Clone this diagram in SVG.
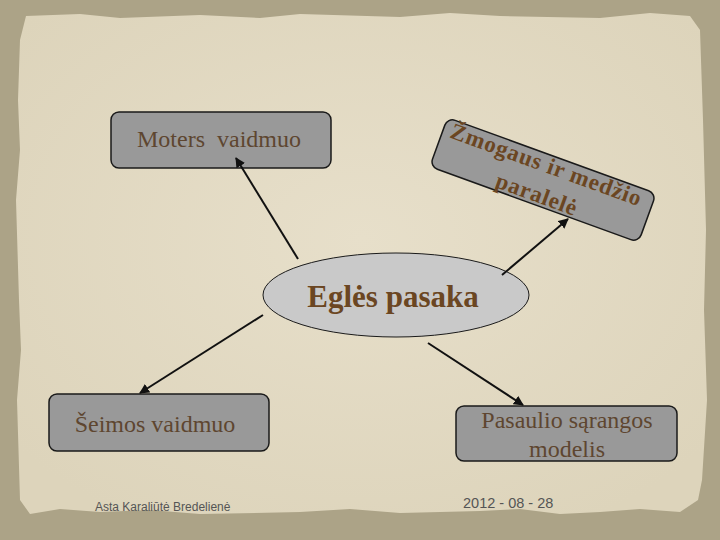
<svg xmlns="http://www.w3.org/2000/svg" width="720" height="540" viewBox="0 0 720 540">
<defs>
<style>
.box{fill:#999999;stroke:#1a1a1a;stroke-width:1.5}
.lbl{font-family:"Liberation Serif","Times New Roman",serif;font-size:24px;fill:#5e4630;text-anchor:middle}
.bold{font-family:"Liberation Serif","Times New Roman",serif;font-weight:bold;fill:#6b4622;text-anchor:middle}
.conn{stroke:#111;stroke-width:2;fill:none;marker-end:url(#ah)}
.foot{font-family:"Liberation Sans",Arial,sans-serif;fill:#555}
</style>
<marker id="ah" viewBox="0 0 10 10" refX="9" refY="5" markerWidth="5" markerHeight="5" orient="auto">
<path d="M0,0 L10,5 L0,10 z" fill="#111"/>
</marker>
<radialGradient id="paper" cx="50%" cy="45%" r="65%">
<stop offset="0" stop-color="#e7dfca"/>
<stop offset="1" stop-color="#ddd4bb"/>
</radialGradient>
</defs>
<rect width="720" height="540" fill="#aca387"/>
<path d="M26,16 L80,14 L120,18 L200,15 L260,18 L300,14 L400,17 L450,13 L500,16 L600,18 L650,13 L690,16 L700,30 L703,120 L706,230 L704,310 L707,400 L702,480 L698,500 L680,512 L640,509 L600,512 L560,514 L520,509 L480,511 L400,513 L350,509 L300,512 L200,514 L150,510 L100,512 L60,509 L30,514 L20,500 L17,400 L21,350 L19,300 L16,200 L20,150 L18,100 L20,40 Z" fill="url(#paper)"/>
<g id="center">
<ellipse cx="396" cy="295" rx="133" ry="42" fill="#c9c9c9" stroke="#1a1a1a" stroke-width="1"/>
<text class="bold" x="393" y="307" font-size="31">Eglės pasaka</text>
</g>
<g id="moters">
<rect class="box" x="111" y="112" width="220" height="56" rx="8"/>
<text class="lbl" x="219" y="147" xml:space="preserve">Moters  vaidmuo</text>
</g>
<g id="zmogaus" transform="translate(543,180) rotate(20)">
<rect class="box" x="-111" y="-26" width="222" height="52" rx="8"/>
<text class="bold" x="-2" y="-8" font-size="23" letter-spacing="0.8">Žmogaus ir medžio</text>
<text class="bold" x="-1" y="23" font-size="23" letter-spacing="0.8">paralelė</text>
</g>
<g id="seimos">
<rect class="box" x="49" y="394" width="220" height="57" rx="8"/>
<text class="lbl" x="155" y="432">Šeimos vaidmuo</text>
</g>
<g id="pasaulio">
<rect class="box" x="456" y="406" width="221" height="55" rx="8"/>
<text class="lbl" x="567" y="428">Pasaulio sąrangos</text>
<text class="lbl" x="567" y="457">modelis</text>
</g>
<g id="connectors">
<line class="conn" x1="298" y1="259" x2="236" y2="158"/>
<line class="conn" x1="502" y1="275" x2="568" y2="219"/>
<line class="conn" x1="263" y1="315" x2="140" y2="393"/>
<line class="conn" x1="428" y1="343" x2="523" y2="405"/>
</g>
<text class="foot" x="95" y="511" style="font-size:12px">Asta Karaliūtė Bredelienė</text>
<text class="foot" x="463" y="508" style="font-size:14.5px">2012 - 08 - 28</text>
</svg>
